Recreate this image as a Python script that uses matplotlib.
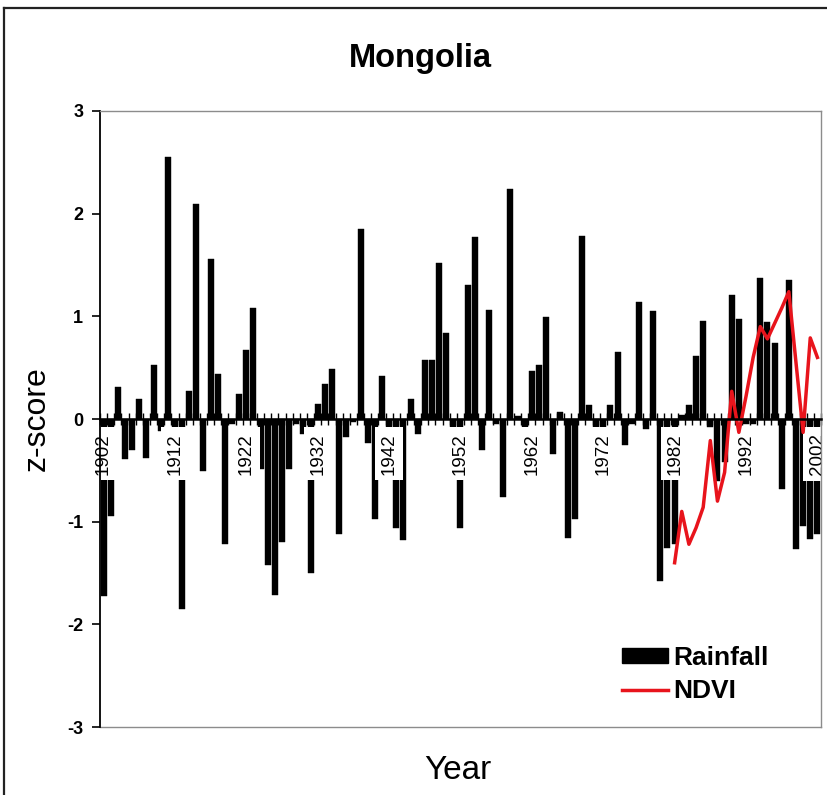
import numpy as np
import matplotlib
matplotlib.use('Agg')
import matplotlib.pyplot as plt
from matplotlib.patches import Patch
from matplotlib.lines import Line2D

plt.rcParams['font.family'] = ['Liberation Sans', 'DejaVu Sans']

# rainfall z-scores, one per year 1902-2002
years = np.arange(1902, 2003)
rainfall = [
    -1.72, -0.94, 0.31, -0.39, -0.30, 0.19, -0.38, 0.53, -0.12, 2.55,   # 1902-1911
    -0.15, -1.85, 0.27, 2.09, -0.51, 1.56, 0.44, -1.22, -0.05, 0.24,    # 1912-1921
    0.67, 1.08, -0.49, -1.42, -1.71, -1.20, -0.49, -0.05, -0.15, -1.50, # 1922-1931
    0.15, 0.34, 0.49, -1.12, -0.18, -0.03, 1.85, -0.23, -0.97, 0.42,    # 1932-1941
    -0.12, -1.06, -1.18, 0.19, -0.15, 0.57, 0.57, 1.52, 0.84, -0.12,    # 1942-1951
    -1.06, 1.31, 1.77, -0.30, 1.06, -0.05, -0.76, 2.24, 0.03, -0.15,    # 1952-1961
    0.47, 0.53, 0.99, -0.34, 0.07, -1.16, -0.97, 1.78, 0.14, -0.15,     # 1962-1971
    -0.15, 0.14, 0.65, -0.25, -0.05, 1.14, -0.10, 1.05, -1.58, -1.26,   # 1972-1981
    -1.22, 0.04, 0.14, 0.61, 0.95, -0.08, -0.60, -0.42, 1.21, 0.97,     # 1982-1991
    -0.05, -0.05, 1.37, 0.94, 0.74, -0.68, 1.35, -1.27, -1.04, -1.17,   # 1992-2001
    -1.12,                                                              # 2002
]

# NDVI z-scores 1982-2002
ndvi_years = np.arange(1982, 2003)
ndvi = [-1.40, -0.90, -1.22, -1.06, -0.86, -0.21, -0.80, -0.52, 0.27, -0.13,
        0.22, 0.60, 0.90, 0.78, 0.93, 1.08, 1.24, 0.55, -0.13, 0.79, 0.60]

label_years = np.arange(1902, 2003, 10)
y_ticks = [-3, -2, -1, 0, 1, 2, 3]

fig = plt.figure(figsize=(8.27, 7.95), dpi=100)
ax = fig.add_axes([0.1209, 0.0855, 0.8718, 0.7749])

ax.bar(years, rainfall, width=0.84, color='black', edgecolor='black', lw=0.3, zorder=1)
ax.plot(ndvi_years, ndvi, color='#e8141c', lw=2.5, zorder=2)

ax.set_xlim(years[0] - 0.5, years[-1] + 0.5)
ax.set_ylim(-3, 3)

# frame: grey plot area border, black y axis, x axis through zero
for s in ['top', 'right']:
    ax.spines[s].set_color('#8c8c8c')
    ax.spines[s].set_linewidth(1)
ax.spines['left'].set_color('black')
ax.spines['left'].set_linewidth(1.3)
ax.spines['bottom'].set_position(('data', 0))
ax.spines['bottom'].set_linewidth(1.8)
ax.plot([0, 1], [0, 0], transform=ax.transAxes, color='#8c8c8c', lw=1, clip_on=False)

ax.set_yticks(y_ticks)
ax.set_yticklabels([str(v) for v in y_ticks], fontsize=13, fontweight='bold')
ax.tick_params(axis='y', direction='out', length=6, width=1.2, pad=6)

ax.set_xticks(label_years)
ax.set_xticklabels([str(y) for y in label_years], rotation=90, fontsize=13.5,
                   va='top', ha='center')
ax.set_xticks(np.arange(years[0] - 0.5, years[-1] + 1, 1), minor=True)
ax.tick_params(axis='x', which='major', length=0, pad=10)
ax.tick_params(axis='x', which='minor', direction='inout', length=8, width=1)
for lab in ax.get_xticklabels():
    lab.set_bbox(dict(facecolor='white', edgecolor='none', pad=4))

leg = ax.legend(handles=[Patch(facecolor='black', edgecolor='black', label='Rainfall'),
                         Line2D([], [], color='#e8141c', lw=2.5, label='NDVI')],
                loc='upper left', bbox_to_anchor=(0.752, 0.1874),
                bbox_transform=fig.transFigure, frameon=False, borderpad=0,
                borderaxespad=0, handlelength=1.75, handleheight=0.5,
                handletextpad=0.2, labelspacing=0.35,
                prop={'size': 19, 'weight': 'bold'})

fig.text(0.508, 0.927, 'Mongolia', ha='center', va='center', fontsize=23.5, fontweight='bold')
fig.text(0.045, 0.474, 'z-score', rotation=90, ha='center', va='center', fontsize=23)
fig.text(0.554, 0.031, 'Year', ha='center', va='center', fontsize=24)

# outer chart border (left and top edges visible)
fig.add_artist(Line2D([0.005, 0.005], [0, 0.99], transform=fig.transFigure, color='#222222', lw=1.6))
fig.add_artist(Line2D([0.005, 1], [0.99, 0.99], transform=fig.transFigure, color='#222222', lw=1.6))

fig.savefig('out.png', dpi=100)
